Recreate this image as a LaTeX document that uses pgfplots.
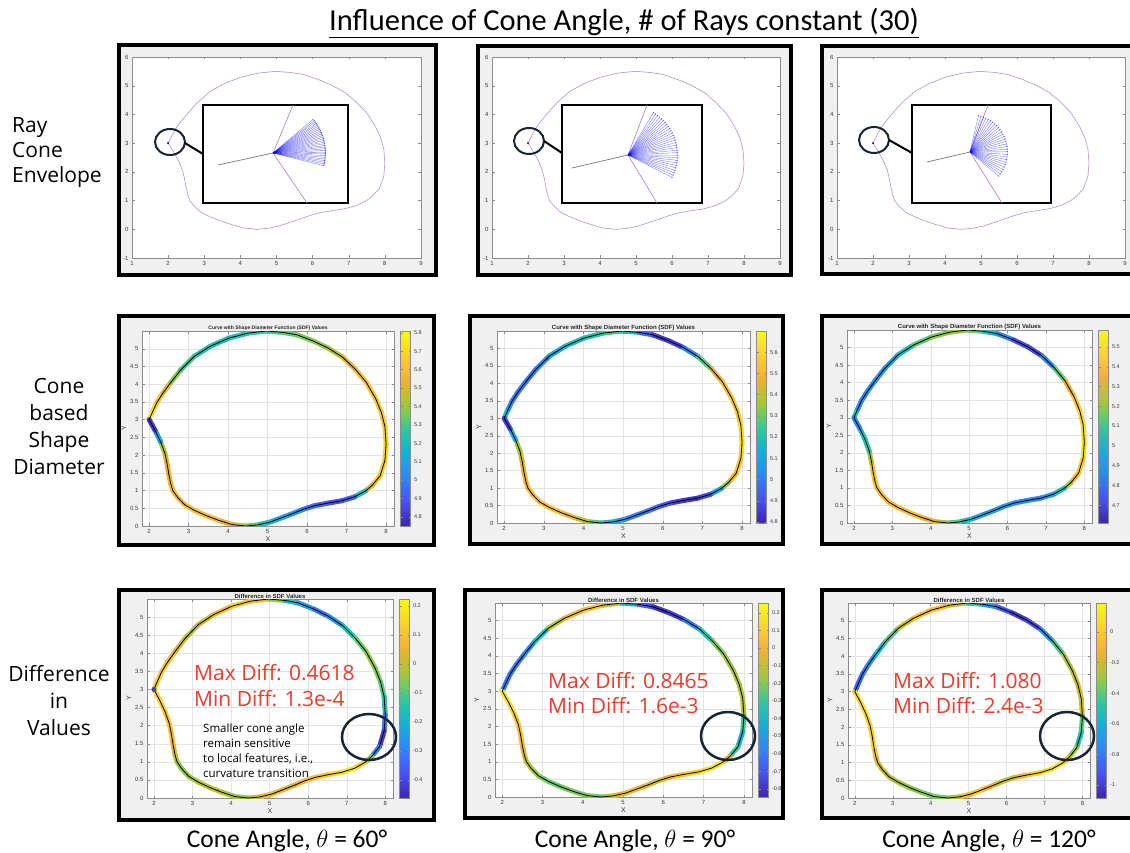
\documentclass[border=0pt]{standalone}
\usepackage{pgfplots}
\pgfplotsset{compat=1.18}
\usepackage{pgfplotstable}
\usepackage{fontspec}
\setmainfont{Open Sans}
\newfontfamily\helv{Liberation Sans}
\newfontfamily\narrow{Carlito}
\usetikzlibrary{arrows.meta}

\definecolor{mlbg}{RGB}{240,240,240}
\definecolor{mlaxis}{RGB}{140,140,140}
\definecolor{mltext}{RGB}{60,60,60}
\definecolor{gridgray}{RGB}{228,228,228}
\definecolor{envpurple}{RGB}{182,135,205}
\definecolor{redtxt}{RGB}{234,60,45}
\definecolor{navy}{RGB}{22,38,52}
\definecolor{raygray}{RGB}{120,120,120}

\pgfplotsset{
 colormap={parula}{rgb255(0cm)=(62,38,168) rgb255(1cm)=(68,58,210) rgb255(2cm)=(72,82,244) rgb255(3cm)=(62,105,253) rgb255(4cm)=(46,135,247) rgb255(5cm)=(35,155,235) rgb255(6cm)=(18,177,214) rgb255(7cm)=(30,190,185) rgb255(8cm)=(55,200,151) rgb255(9cm)=(110,202,105) rgb255(10cm)=(165,198,60) rgb255(11cm)=(198,190,50) rgb255(12cm)=(236,178,52) rgb255(13cm)=(250,190,52) rgb255(14cm)=(250,210,45) rgb255(15cm)=(245,230,35) rgb255(16cm)=(249,251,21)},
 mlax/.style={
  scale only axis, anchor=north west,
  axis background/.style={fill=white},
  axis line style={draw=mlaxis, line width=0.5pt},
  tick style={draw=mlaxis, line width=0.4pt},
  major tick length=2.5pt,
  tick label style={font=\helv\fontsize{6}{7}\selectfont, text=mltext},
  /pgf/number format/assume math mode=true,
 },
 envax/.style={mlax, height=201pt, xmin=1, xmax=9, ymin=-1, ymax=6, xtick={1,...,9}, ytick={-1,...,6}},
 inset/.style={scale only axis, anchor=north west, ticks=none, axis line style={black, line width=2.5pt}, axis background/.style={fill=white}},
 fan/.style={blue, line width=0.35pt, opacity=0.55, -{Circle[length=1.3pt]}},
 sdfax/.style={mlax, xmin=1.82, xmax=8.2, ymin=0, ymax=5.5, xtick={2,...,8}, ytick={0,0.5,...,5},
  grid=major, grid style={draw=gridgray, line width=0.4pt},
  xlabel={X}, ylabel={Y}, label style={font=\helv\fontsize{7}{8}\selectfont, text=mltext},
  xlabel style={yshift=4pt}, ylabel style={yshift=-3pt},
  title style={font=\helv\bfseries\fontsize{6}{7}\selectfont, text=black!85, inner sep=1pt, yshift=-7pt},
  colormap name=parula, colorbar,
  colorbar style={width=10pt, at={(parent axis.north east)}, anchor=north west, xshift=-2pt,
   axis line style={draw=mlaxis, line width=0.4pt}, tick style={draw=mlaxis, line width=0.4pt},
   major tick length=2pt, yticklabel style={font=\helv\fontsize{5.5}{6}\selectfont, text=mltext},
   /pgf/number format/assume math mode=true}},
 cbt/.style={colorbar style={ytick={#1}}},
 band/.style={mesh, point meta=explicit, line width=5pt, line cap=round},
 core/.style={black, line width=0.8pt, line join=round},
}

\pgfplotstableread{
x y m1 m2 m3 m4 m5 m6
2.00 3.00 5.80 5.30 5.25 0.10 -0.60 -0.85
2.10 3.25 5.72 5.10 4.90 0.12 -0.60 -0.85
2.20 3.49 5.66 5.00 4.85 0.12 -0.62 -0.85
2.35 3.75 5.60 4.98 4.85 0.10 -0.62 -0.78
2.55 4.05 5.45 4.98 4.88 0.06 -0.60 -0.68
2.80 4.40 5.32 5.00 4.90 0.00 -0.50 -0.50
3.15 4.79 5.25 5.05 4.95 -0.02 -0.25 -0.35
3.55 5.07 5.22 5.15 5.10 0.06 0.00 -0.08
4.02 5.30 5.22 5.20 5.18 0.10 0.05 -0.05
4.50 5.44 5.25 5.22 5.20 0.15 0.08 -0.05
4.97 5.50 5.27 5.30 5.20 0.02 -0.30 -0.35
5.40 5.46 5.30 5.05 5.10 -0.12 -0.60 -0.60
5.75 5.39 5.35 4.88 4.95 -0.20 -0.80 -0.80
6.15 5.22 5.38 4.82 4.75 -0.30 -0.82 -0.98
6.53 5.02 5.40 4.90 4.68 -0.32 -0.70 -1.05
6.90 4.76 5.48 5.15 4.72 -0.20 -0.45 -0.85
7.22 4.42 5.58 5.40 4.98 -0.12 -0.25 -0.55
7.50 4.05 5.62 5.52 5.30 -0.05 -0.18 -0.32
7.74 3.58 5.65 5.55 5.40 -0.05 -0.15 -0.22
7.88 3.20 5.65 5.56 5.45 -0.08 -0.13 -0.20
7.97 2.80 5.65 5.58 5.48 -0.10 -0.13 -0.20
8.00 2.30 5.68 5.64 5.52 -0.18 -0.12 -0.18
7.97 1.85 5.68 5.58 5.48 -0.44 -0.45 -0.60
7.85 1.42 5.65 5.52 5.42 -0.40 -0.38 -0.40
7.65 1.15 5.58 5.45 5.35 -0.20 -0.20 -0.22
7.48 0.99 5.40 5.25 5.10 0.08 0.15 0.06
7.20 0.82 5.00 4.95 4.95 0.18 0.18 0.10
6.87 0.71 4.85 4.82 4.85 0.18 0.15 0.06
6.50 0.64 4.88 4.85 4.85 0.12 0.08 0.00
6.18 0.57 4.95 4.88 4.88 0.10 0.04 -0.20
5.90 0.47 4.98 4.95 4.90 0.10 -0.10 -0.25
5.66 0.36 5.05 4.98 4.90 0.05 -0.05 -0.15
5.35 0.23 5.10 5.00 4.92 0.02 0.00 -0.05
5.06 0.11 5.15 5.02 4.95 0.10 0.04 0.00
4.75 0.03 5.25 5.10 5.05 0.05 -0.05 -0.15
4.45 0.00 5.40 5.20 5.20 -0.05 -0.20 -0.35
4.10 0.04 5.50 5.35 5.30 -0.05 -0.22 -0.35
3.76 0.16 5.58 5.48 5.38 -0.02 -0.20 -0.35
3.45 0.29 5.60 5.52 5.40 0.00 -0.22 -0.32
3.15 0.44 5.62 5.55 5.40 -0.02 -0.25 -0.30
2.90 0.60 5.62 5.55 5.40 -0.05 -0.20 -0.25
2.72 0.81 5.60 5.54 5.40 -0.05 -0.15 -0.20
2.60 1.00 5.60 5.52 5.42 -0.05 -0.12 -0.18
2.55 1.18 5.58 5.50 5.42 0.00 -0.08 -0.15
2.50 1.45 5.56 5.47 5.42 0.06 0.00 0.05
2.46 1.73 5.53 5.45 5.40 0.08 0.04 0.05
2.40 2.05 5.50 5.42 5.10 0.10 0.06 0.00
2.29 2.38 5.35 5.30 5.05 0.12 0.10 0.08
2.15 2.70 4.85 4.90 5.00 0.15 0.18 0.06
2.00 3.00 4.78 4.82 4.70 0.12 0.20 0.08
}\curve

% ray fans: origin (0,0) and ray angle a in degrees (30 rays each)
\pgfplotstableread{
x y a
0 0 -14.0
0 0 -12.1
0 0 -10.3
0 0 -8.4
0 0 -6.6
0 0 -4.7
0 0 -2.8
0 0 -1.0
0 0 0.9
0 0 2.8
0 0 4.6
0 0 6.5
0 0 8.3
0 0 10.2
0 0 12.1
0 0 13.9
0 0 15.8
0 0 17.7
0 0 19.5
0 0 21.4
0 0 23.2
0 0 25.1
0 0 27.0
0 0 28.8
0 0 30.7
0 0 32.6
0 0 34.4
0 0 36.3
0 0 38.1
0 0 40.0
}\fanA

\pgfplotstableread{
x y a
0 0 -27.0
0 0 -24.0
0 0 -21.1
0 0 -18.1
0 0 -15.1
0 0 -12.2
0 0 -9.2
0 0 -6.2
0 0 -3.3
0 0 -0.3
0 0 2.7
0 0 5.6
0 0 8.6
0 0 11.6
0 0 14.5
0 0 17.5
0 0 20.5
0 0 23.4
0 0 26.4
0 0 29.4
0 0 32.3
0 0 35.3
0 0 38.3
0 0 41.2
0 0 44.2
0 0 47.2
0 0 50.1
0 0 53.1
0 0 56.1
0 0 59.0
}\fanB

\pgfplotstableread{
x y a
0 0 -40.0
0 0 -36.0
0 0 -31.9
0 0 -27.9
0 0 -23.9
0 0 -19.8
0 0 -15.8
0 0 -11.8
0 0 -7.7
0 0 -3.7
0 0 0.3
0 0 4.4
0 0 8.4
0 0 12.4
0 0 16.5
0 0 20.5
0 0 24.5
0 0 28.6
0 0 32.6
0 0 36.6
0 0 40.7
0 0 44.7
0 0 48.7
0 0 52.8
0 0 56.8
0 0 60.9
0 0 64.9
0 0 68.9
0 0 73.0
0 0 77.0
}\fanC

\begin{document}
\begin{tikzpicture}
\path[use as bounding box] (0pt,0pt) rectangle (1130pt,-853pt);
\begin{scope}[x=1pt,y=-1pt]
 \foreach \a/\b/\c/\d in {119/45/436/275, 478/46/791/275, 822/46/1136/274, 119/316/434/545, 470/316/783/544, 822/316/1136/544, 119/590/434/820, 465/590/783/818, 822/590/1136/818}{
   \filldraw[fill=mlbg, draw=black, line width=4pt] (\a,\b) rectangle (\c,\d);
 }
 \node[anchor=base, inner sep=0pt, font=\narrow\fontsize{30.5}{34}\selectfont] at (624,31) {\underline{Influence of Cone Angle, \# of Rays constant (30)}};
 \node[anchor=west, align=left, inner sep=0pt, font=\fontsize{21}{25}\selectfont] at (12,153) {Ray\\Cone\\Envelope};
 \node[align=center, inner sep=0pt, font=\fontsize{21}{27}\selectfont] at (59,426) {Cone\\based\\Shape\\Diameter};
 \node[align=center, inner sep=0pt, font=\fontsize{21}{27}\selectfont] at (59,701) {Difference\\in\\Values};
 \node[anchor=base, inner sep=0pt, font=\narrow\fontsize{25.5}{30}\selectfont] at (287,847) {Cone Angle, $\theta$ = 60°};
 \node[anchor=base, inner sep=0pt, font=\narrow\fontsize{25.5}{30}\selectfont] at (635,847) {Cone Angle, $\theta$ = 90°};
 \node[anchor=base, inner sep=0pt, font=\narrow\fontsize{25.5}{30}\selectfont] at (989,847) {Cone Angle, $\theta$ = 120°};
\end{scope}

% ---------- Row 1 ----------
\begin{axis}[envax, at={(132pt,-57pt)}, width=289pt]
 \addplot[envpurple, line width=0.55pt] table[x=x,y=y]{\curve};
 \addplot[only marks, mark=*, mark size=0.8pt, blue] coordinates {(2,3)};
\end{axis}
\begin{axis}[inset, at={(203pt,-105pt)}, width=145pt, height=98pt, xmin=-70, xmax=75, ymin=-50, ymax=48]
 \addplot[envpurple, line width=0.7pt] coordinates {(20,48) (0,0) (34,-50)};
 \addplot[raygray, line width=0.7pt] coordinates {(0,0) (-55,-12)};
 \addplot[fan, quiver={u={53*cos(\thisrow{a})}, v={53*sin(\thisrow{a})}}] table[x=x, y=y]{\fanA};
\end{axis}

\begin{axis}[envax, at={(492pt,-57pt)}, width=288pt]
 \addplot[envpurple, line width=0.55pt] table[x=x,y=y]{\curve};
 \addplot[only marks, mark=*, mark size=0.8pt, blue] coordinates {(2,3)};
\end{axis}
\begin{axis}[inset, at={(562pt,-105pt)}, width=140pt, height=98pt, xmin=-66, xmax=74, ymin=-48, ymax=50]
 \addplot[envpurple, line width=0.7pt] coordinates {(19,50) (0,0) (29,-48)};
 \addplot[raygray, line width=0.7pt] coordinates {(0,0) (-56,-13)};
 \addplot[fan, quiver={u={50*cos(\thisrow{a})}, v={50*sin(\thisrow{a})}}] table[x=x, y=y]{\fanB};
\end{axis}

\begin{axis}[envax, at={(837pt,-57pt)}, width=288pt]
 \addplot[envpurple, line width=0.55pt] table[x=x,y=y]{\curve};
 \addplot[only marks, mark=*, mark size=0.8pt, blue] coordinates {(2,3)};
\end{axis}
\begin{axis}[inset, at={(912pt,-105pt)}, width=139pt, height=98pt, xmin=-58, xmax=81, ymin=-51, ymax=47]
 \addplot[envpurple, line width=0.7pt] coordinates {(18,47) (0,0) (32,-51)};
 \addplot[raygray, line width=0.7pt] coordinates {(0,0) (-43,-10)};
 \addplot[fan, quiver={u={38*cos(\thisrow{a})}, v={38*sin(\thisrow{a})}}] table[x=x, y=y]{\fanC};
\end{axis}

% ---------- Row 2 ----------
\begin{axis}[sdfax, at={(142pt,-331pt)}, width=252pt, height=195pt, point meta min=4.75, point meta max=5.81,
  cbt={4.8,4.9,5,5.1,5.2,5.3,5.4,5.5,5.6,5.7,5.8}, title={Curve with Shape Diameter Function (SDF) Values},
  title style={font=\helv\bfseries\fontsize{5}{6}\selectfont}]
 \addplot[band] table[x=x,y=y,meta=m1]{\curve};
 \addplot[core] table[x=x,y=y]{\curve};
\end{axis}
\begin{axis}[sdfax, at={(497pt,-331pt)}, width=253pt, height=192pt, point meta min=4.795, point meta max=5.70,
  cbt={4.8,4.9,5,5.1,5.2,5.3,5.4,5.5,5.6}, title={Curve with Shape Diameter Function (SDF) Values}]
 \addplot[band] table[x=x,y=y,meta=m2]{\curve};
 \addplot[core] table[x=x,y=y]{\curve};
\end{axis}
\begin{axis}[sdfax, at={(847pt,-330pt)}, width=245pt, height=193pt, point meta min=4.61, point meta max=5.586,
  cbt={4.7,4.8,4.9,5,5.1,5.2,5.3,5.4,5.5}, title={Curve with Shape Diameter Function (SDF) Values}]
 \addplot[band] table[x=x,y=y,meta=m3]{\curve};
 \addplot[core] table[x=x,y=y]{\curve};
\end{axis}

% ---------- Row 3 ----------
\begin{axis}[sdfax, at={(147pt,-599pt)}, width=246pt, height=199pt, point meta min=-0.462, point meta max=0.224,
  cbt={-0.4,-0.3,-0.2,-0.1,0,0.1,0.2}, title={Difference in SDF Values}]
 \addplot[band] table[x=x,y=y,meta=m4]{\curve};
 \addplot[core] table[x=x,y=y]{\curve};
 \addplot[only marks, mark=*, mark size=2.2pt, color={rgb,255:red,60;green,60;blue,215}] coordinates {(2,3)};
\end{axis}
\begin{axis}[sdfax, at={(495pt,-603pt)}, width=257pt, height=194pt, point meta min=-0.8465, point meta max=0.256,
  cbt={-0.8,-0.7,-0.6,-0.5,-0.4,-0.3,-0.2,-0.1,0,0.1,0.2}, title={Difference in SDF Values}]
 \addplot[band] table[x=x,y=y,meta=m5]{\curve};
 \addplot[core] table[x=x,y=y]{\curve};
\end{axis}
\begin{axis}[sdfax, at={(848pt,-603pt)}, width=242pt, height=195pt, point meta min=-1.085, point meta max=0.19,
  cbt={-1,-0.8,-0.6,-0.4,-0.2,0}, title={Difference in SDF Values}]
 \addplot[band] table[x=x,y=y,meta=m6]{\curve};
 \addplot[core] table[x=x,y=y]{\curve};
\end{axis}

% ---------- annotations ----------
\begin{scope}[x=1pt,y=-1pt]
 \draw[navy, line width=2pt] (170,142) ellipse [x radius=15pt, y radius=13pt];
 \draw[black, line width=2pt] (185,143) -- (203,154);
 \draw[navy, line width=2pt] (529,141) ellipse [x radius=15pt, y radius=13pt];
 \draw[black, line width=2pt] (544,141) -- (562,153);
 \draw[navy, line width=2pt] (874,140) ellipse [x radius=15pt, y radius=13pt];
 \draw[black, line width=2pt] (889,140) -- (912,153);
 \draw[navy, line width=2.5pt] (369,737) ellipse [x radius=27pt, y radius=23pt];
 \draw[navy, line width=2.5pt] (728,736) ellipse [x radius=27pt, y radius=24pt];
 \draw[navy, line width=2.5pt] (1067,736) ellipse [x radius=27pt, y radius=24pt];
 \begin{scope}[every node/.style={anchor=base west, inner sep=0pt, text=redtxt, font=\fontsize{21}{26}\selectfont}]
  \node at (194,680) {Max Diff: 0.4618};
  \node at (194,706) {Min Diff: 1.3e-4};
  \node at (548,688) {Max Diff: 0.8465};
  \node at (548,713) {Min Diff: 1.6e-3};
  \node at (893,688) {Max Diff: 1.080};
  \node at (893,713) {Min Diff: 2.4e-3};
 \end{scope}
 \begin{scope}[every node/.style={anchor=base west, inner sep=0pt, font=\fontsize{11.5}{14}\selectfont}]
  \node at (203,732) {Smaller cone angle};
  \node at (203,747) {remain sensitive};
  \node at (203,762) {to local features, i.e.,};
  \node at (203,777) {curvature transition};
 \end{scope}
\end{scope}
\end{tikzpicture}
\end{document}
